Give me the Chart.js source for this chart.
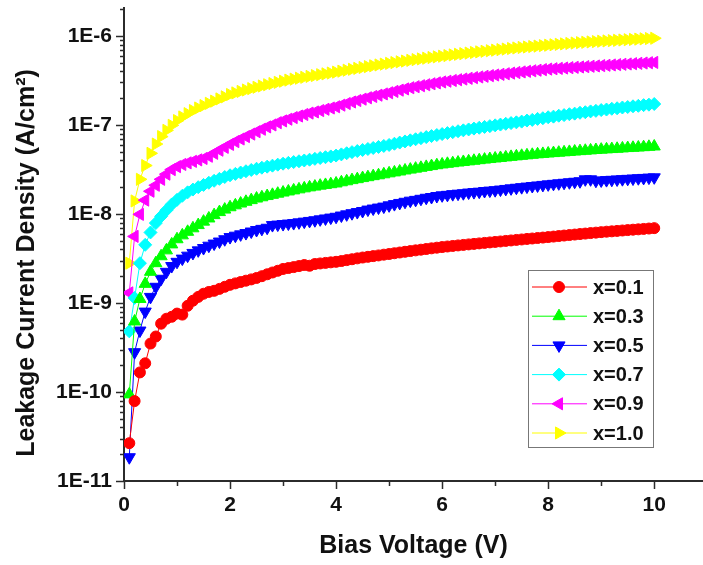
<!DOCTYPE html>
<html>
<head>
<meta charset="utf-8">
<script src="https://cdn.jsdelivr.net/npm/chart.js@4.4.1/dist/chart.umd.min.js"></script>
<style>
  html, body { margin: 0; padding: 0; background: #fff; }
  #leak { display: block; }
</style>
</head>
<body>
<canvas id="leak" width="703" height="565"></canvas>
<script>
// bias voltage (V)
const voltage = [
  0.1,0.2,0.3,0.4,0.5,0.6,0.7,0.8,0.9,1.0,
  1.1,1.2,1.3,1.4,1.5,1.6,1.7,1.8,1.9,2.0,
  2.1,2.2,2.3,2.4,2.5,2.6,2.7,2.8,2.9,3.0,
  3.1,3.2,3.3,3.4,3.5,3.6,3.7,3.8,3.9,4.0,
  4.1,4.2,4.3,4.4,4.5,4.6,4.7,4.8,4.9,5.0,
  5.1,5.2,5.3,5.4,5.5,5.6,5.7,5.8,5.9,6.0,
  6.1,6.2,6.3,6.4,6.5,6.6,6.7,6.8,6.9,7.0,
  7.1,7.2,7.3,7.4,7.5,7.6,7.7,7.8,7.9,8.0,
  8.1,8.2,8.3,8.4,8.5,8.6,8.7,8.8,8.9,9.0,
  9.1,9.2,9.3,9.4,9.5,9.6,9.7,9.8,9.9,10.0
];

// leakage current density (A/cm2)
const jX01 = [
  2.66e-11,7.9e-11,1.66e-10,2.1e-10,3.5e-10,4.2e-10,5.85e-10,6.65e-10,7.0e-10,7.6e-10,
  7.4e-10,9.3e-10,1.06e-9,1.17e-9,1.27e-9,1.33e-9,1.37e-9,1.44e-9,1.52e-9,1.6e-9,
  1.66e-9,1.72e-9,1.78e-9,1.84e-9,1.91e-9,2.0e-9,2.1e-9,2.2e-9,2.3e-9,2.41e-9,
  2.47e-9,2.53e-9,2.6e-9,2.67e-9,2.62e-9,2.74e-9,2.78e-9,2.82e-9,2.86e-9,2.9e-9,
  2.96e-9,3.03e-9,3.1e-9,3.17e-9,3.24e-9,3.3e-9,3.36e-9,3.42e-9,3.49e-9,3.55e-9,
  3.62e-9,3.69e-9,3.76e-9,3.83e-9,3.9e-9,3.97e-9,4.04e-9,4.11e-9,4.18e-9,4.25e-9,
  4.31e-9,4.37e-9,4.43e-9,4.49e-9,4.55e-9,4.61e-9,4.67e-9,4.73e-9,4.79e-9,4.85e-9,
  4.91e-9,4.98e-9,5.04e-9,5.11e-9,5.17e-9,5.24e-9,5.3e-9,5.37e-9,5.43e-9,5.5e-9,
  5.57e-9,5.65e-9,5.72e-9,5.8e-9,5.87e-9,5.95e-9,6.02e-9,6.1e-9,6.17e-9,6.25e-9,
  6.32e-9,6.38e-9,6.45e-9,6.52e-9,6.59e-9,6.66e-9,6.72e-9,6.79e-9,6.86e-9,6.93e-9
];
const jX03 = [
  9.4e-11,6.2e-10,1.11e-9,1.64e-9,2.24e-9,2.8e-9,3.35e-9,3.9e-9,4.55e-9,5.2e-9,
  5.75e-9,6.3e-9,6.9e-9,7.5e-9,8.2e-9,8.9e-9,9.7e-9,1.05e-8,1.12e-8,1.19e-8,
  1.25e-8,1.31e-8,1.37e-8,1.43e-8,1.49e-8,1.54e-8,1.59e-8,1.64e-8,1.69e-8,1.74e-8,
  1.79e-8,1.84e-8,1.89e-8,1.94e-8,1.99e-8,2.03e-8,2.08e-8,2.12e-8,2.16e-8,2.2e-8,
  2.27e-8,2.33e-8,2.4e-8,2.46e-8,2.53e-8,2.59e-8,2.66e-8,2.72e-8,2.79e-8,2.86e-8,
  2.93e-8,3.0e-8,3.08e-8,3.15e-8,3.23e-8,3.3e-8,3.38e-8,3.45e-8,3.53e-8,3.6e-8,
  3.66e-8,3.72e-8,3.78e-8,3.84e-8,3.9e-8,3.96e-8,4.02e-8,4.08e-8,4.14e-8,4.2e-8,
  4.26e-8,4.32e-8,4.38e-8,4.44e-8,4.5e-8,4.56e-8,4.62e-8,4.68e-8,4.73e-8,4.78e-8,
  4.83e-8,4.88e-8,4.93e-8,4.98e-8,5.03e-8,5.08e-8,5.13e-8,5.18e-8,5.23e-8,5.28e-8,
  5.32e-8,5.36e-8,5.4e-8,5.45e-8,5.5e-8,5.54e-8,5.58e-8,5.63e-8,5.68e-8,5.73e-8
];
const jX05 = [
  1.85e-11,2.8e-10,4.9e-10,8.0e-10,1.17e-9,1.52e-9,1.87e-9,2.24e-9,2.6e-9,2.9e-9,
  3.15e-9,3.4e-9,3.65e-9,3.9e-9,4.14e-9,4.4e-9,4.65e-9,4.9e-9,5.2e-9,5.5e-9,
  5.7e-9,5.9e-9,6.1e-9,6.35e-9,6.6e-9,6.8e-9,7.0e-9,7.5e-9,7.6e-9,7.7e-9,
  7.8e-9,7.9e-9,8.05e-9,8.2e-9,8.35e-9,8.5e-9,8.7e-9,8.9e-9,9.1e-9,9.3e-9,
  9.6e-9,9.9e-9,1.02e-8,1.05e-8,1.08e-8,1.12e-8,1.15e-8,1.18e-8,1.21e-8,1.25e-8,
  1.29e-8,1.33e-8,1.37e-8,1.41e-8,1.44e-8,1.48e-8,1.52e-8,1.55e-8,1.59e-8,1.62e-8,
  1.64e-8,1.67e-8,1.69e-8,1.71e-8,1.74e-8,1.76e-8,1.78e-8,1.81e-8,1.83e-8,1.85e-8,
  1.88e-8,1.91e-8,1.94e-8,1.97e-8,2.0e-8,2.03e-8,2.06e-8,2.09e-8,2.12e-8,2.15e-8,
  2.18e-8,2.21e-8,2.24e-8,2.27e-8,2.3e-8,2.33e-8,2.45e-8,2.45e-8,2.36e-8,2.38e-8,
  2.4e-8,2.42e-8,2.44e-8,2.46e-8,2.48e-8,2.5e-8,2.52e-8,2.54e-8,2.56e-8,2.58e-8
];
const jX07 = [
  4.8e-10,1.14e-9,2.8e-9,4.5e-9,6.2e-9,7.9e-9,9.4e-9,1.1e-8,1.28e-8,1.44e-8,
  1.6e-8,1.75e-8,1.88e-8,2.0e-8,2.12e-8,2.24e-8,2.36e-8,2.48e-8,2.6e-8,2.72e-8,
  2.82e-8,2.92e-8,3.02e-8,3.12e-8,3.22e-8,3.31e-8,3.4e-8,3.49e-8,3.58e-8,3.67e-8,
  3.75e-8,3.83e-8,3.91e-8,3.99e-8,4.07e-8,4.16e-8,4.25e-8,4.34e-8,4.43e-8,4.53e-8,
  4.67e-8,4.81e-8,4.95e-8,5.09e-8,5.23e-8,5.37e-8,5.51e-8,5.66e-8,5.81e-8,5.96e-8,
  6.15e-8,6.34e-8,6.53e-8,6.72e-8,6.91e-8,7.1e-8,7.3e-8,7.5e-8,7.7e-8,7.9e-8,
  8.1e-8,8.3e-8,8.5e-8,8.7e-8,8.9e-8,9.1e-8,9.3e-8,9.5e-8,9.7e-8,9.9e-8,
  1.01e-7,1.03e-7,1.05e-7,1.07e-7,1.09e-7,1.12e-7,1.14e-7,1.17e-7,1.19e-7,1.22e-7,
  1.24e-7,1.27e-7,1.29e-7,1.32e-7,1.34e-7,1.37e-7,1.39e-7,1.42e-7,1.44e-7,1.47e-7,
  1.49e-7,1.52e-7,1.54e-7,1.57e-7,1.59e-7,1.62e-7,1.64e-7,1.67e-7,1.69e-7,1.72e-7
];
const jX09 = [
  1.3e-9,5.6e-9,9.9e-9,1.43e-8,1.8e-8,2.1e-8,2.45e-8,2.8e-8,3.15e-8,3.4e-8,
  3.6e-8,3.75e-8,3.9e-8,4.05e-8,4.2e-8,4.45e-8,4.8e-8,5.2e-8,5.6e-8,6.05e-8,
  6.5e-8,6.95e-8,7.4e-8,7.9e-8,8.4e-8,8.95e-8,9.5e-8,1.0e-7,1.06e-7,1.11e-7,
  1.16e-7,1.21e-7,1.26e-7,1.31e-7,1.36e-7,1.4e-7,1.45e-7,1.5e-7,1.55e-7,1.6e-7,
  1.67e-7,1.74e-7,1.81e-7,1.88e-7,1.95e-7,2.02e-7,2.09e-7,2.16e-7,2.23e-7,2.3e-7,
  2.38e-7,2.46e-7,2.54e-7,2.62e-7,2.69e-7,2.76e-7,2.83e-7,2.9e-7,2.97e-7,3.04e-7,
  3.1e-7,3.16e-7,3.22e-7,3.28e-7,3.34e-7,3.4e-7,3.46e-7,3.52e-7,3.58e-7,3.64e-7,
  3.7e-7,3.76e-7,3.82e-7,3.88e-7,3.94e-7,4.0e-7,4.06e-7,4.12e-7,4.18e-7,4.24e-7,
  4.28e-7,4.32e-7,4.36e-7,4.4e-7,4.44e-7,4.48e-7,4.52e-7,4.56e-7,4.6e-7,4.64e-7,
  4.68e-7,4.72e-7,4.76e-7,4.8e-7,4.84e-7,4.88e-7,4.92e-7,4.96e-7,5.0e-7,5.04e-7
];
const jX10 = [
  2.8e-9,1.4e-8,2.45e-8,3.5e-8,4.8e-8,6.1e-8,7.4e-8,8.7e-8,9.9e-8,1.12e-7,
  1.23e-7,1.34e-7,1.45e-7,1.55e-7,1.65e-7,1.75e-7,1.85e-7,1.96e-7,2.07e-7,2.2e-7,
  2.29e-7,2.38e-7,2.47e-7,2.56e-7,2.65e-7,2.74e-7,2.83e-7,2.92e-7,3.01e-7,3.1e-7,
  3.19e-7,3.27e-7,3.35e-7,3.43e-7,3.51e-7,3.59e-7,3.67e-7,3.75e-7,3.83e-7,3.92e-7,
  4.02e-7,4.12e-7,4.22e-7,4.32e-7,4.42e-7,4.52e-7,4.62e-7,4.72e-7,4.82e-7,4.92e-7,
  5.02e-7,5.12e-7,5.22e-7,5.32e-7,5.42e-7,5.52e-7,5.62e-7,5.72e-7,5.82e-7,5.92e-7,
  6.02e-7,6.12e-7,6.22e-7,6.32e-7,6.42e-7,6.52e-7,6.62e-7,6.72e-7,6.82e-7,6.92e-7,
  7.02e-7,7.12e-7,7.22e-7,7.32e-7,7.42e-7,7.51e-7,7.6e-7,7.69e-7,7.78e-7,7.87e-7,
  7.96e-7,8.05e-7,8.14e-7,8.23e-7,8.32e-7,8.4e-7,8.48e-7,8.56e-7,8.64e-7,8.72e-7,
  8.79e-7,8.86e-7,8.93e-7,9.0e-7,9.07e-7,9.14e-7,9.21e-7,9.28e-7,9.35e-7,9.42e-7
];

const seriesLabels = ['x=0.1', 'x=0.3', 'x=0.5', 'x=0.7', 'x=0.9', 'x=1.0'];
const seriesData = [jX01, jX03, jX05, jX07, jX09, jX10];
const xTicks = [0, 2, 4, 6, 8, 10];

const colors = ['#ff0000', '#00ff00', '#0000ff', '#00ffff', '#ff00ff', '#ffff00'];
const markers = [
  { style: 'circle', rot: 0, r: 5.5 },
  { style: 'triangle', rot: 0, r: 7 },
  { style: 'triangle', rot: 180, r: 7 },
  { style: 'rectRot', rot: 0, r: 6.5 },
  { style: 'triangle', rot: 270, r: 7 },
  { style: 'triangle', rot: 90, r: 7 }
];

const FONT = 'Arial, "Liberation Sans", sans-serif';
const AXIS = '#2b2b2b';

const datasets = seriesData.map((vals, i) => ({
  label: seriesLabels[i],
  data: voltage.map((v, k) => ({ x: v, y: vals[k] })),
  borderColor: colors[i],
  backgroundColor: colors[i],
  borderWidth: 1,
  pointStyle: markers[i].style,
  pointRotation: markers[i].rot,
  pointRadius: markers[i].r,
  pointBorderWidth: 1,
  pointBorderColor: colors[i],
  pointBackgroundColor: colors[i],
  tension: 0
}));

function isDecade(v) {
  const e = Math.log10(v);
  return Math.abs(e - Math.round(e)) < 1e-6;
}

// the x axis runs to the right edge of the canvas, as in the original figure
const fullWidth = {
  id: 'fullWidth',
  afterLayout(chart) {
    const ca = chart.chartArea;
    const xs = chart.scales.x;
    if (ca.right < chart.width) {
      ca.right = chart.width;
      ca.width = ca.right - ca.left;
      xs.right = chart.width;
      xs.width = xs.right - xs.left;
      xs.configure();
    }
  }
};

// tick marks (major / minor), y title, legend box
const decorations = {
  id: 'decorations',
  afterDraw(chart) {
    const ctx = chart.ctx;
    const xs = chart.scales.x;
    const ys = chart.scales.y;
    const area = chart.chartArea;
    ctx.save();
    ctx.strokeStyle = AXIS;
    ctx.lineWidth = 1.5;
    // y ticks
    for (let e = -11; e <= -6; e++) {
      for (let s = 1; s <= 9; s++) {
        const v = s * Math.pow(10, e);
        if (v > ys.max * 1.0001) break;
        const py = Math.round(ys.getPixelForValue(v)) + 0.5;
        const len = s === 1 ? 8 : 4;
        ctx.beginPath();
        ctx.moveTo(area.left - len, py);
        ctx.lineTo(area.left, py);
        ctx.stroke();
      }
    }
    // x ticks
    for (let v = 0; v <= 10; v++) {
      const px = Math.round(xs.getPixelForValue(v)) + 0.5;
      const len = v % 2 === 0 ? 8 : 5;
      ctx.beginPath();
      ctx.moveTo(px, area.bottom);
      ctx.lineTo(px, area.bottom + len);
      ctx.stroke();
    }

    // y axis title
    ctx.fillStyle = '#111';
    ctx.font = 'bold 25px ' + FONT;
    ctx.textAlign = 'center';
    ctx.textBaseline = 'middle';
    ctx.translate(27, 263);
    ctx.rotate(-Math.PI / 2);
    ctx.fillText('Leakage Current Density (A/cm\u00b2)', 0, 0);
    ctx.restore();

    // legend
    ctx.save();
    const bx = 528, by = 270, bw = 125, bh = 177;
    ctx.fillStyle = '#fff';
    ctx.fillRect(bx, by, bw, bh);
    ctx.strokeStyle = '#777';
    ctx.lineWidth = 1;
    ctx.strokeRect(bx + 0.5, by + 0.5, bw, bh);
    ctx.font = 'bold 20px ' + FONT;
    ctx.textAlign = 'left';
    ctx.textBaseline = 'middle';
    chart.data.datasets.forEach((ds, i) => {
      const cy = 287 + i * 29.2;
      ctx.strokeStyle = ds.borderColor;
      ctx.lineWidth = 1;
      ctx.beginPath();
      ctx.moveTo(532, cy);
      ctx.lineTo(587, cy);
      ctx.stroke();
      ctx.fillStyle = ds.backgroundColor;
      Chart.helpers.drawPoint(ctx, {
        pointStyle: ds.pointStyle,
        rotation: ds.pointRotation,
        radius: ds.pointRadius,
        borderWidth: 1
      }, 559, cy);
      ctx.fillStyle = '#111';
      ctx.fillText(ds.label, 593, cy + 1);
    });
    ctx.restore();
  }
};

new Chart(document.getElementById('leak').getContext('2d'), {
  type: 'line',
  data: { datasets },
  options: {
    responsive: false,
    animation: false,
    devicePixelRatio: 1,
    layout: { padding: { top: 6, left: 0, right: 0, bottom: 0 } },
    plugins: {
      legend: { display: false },
      tooltip: { enabled: false }
    },
    scales: {
      x: {
        type: 'linear',
        min: 0,
        max: 10.92,
        grid: { display: true, drawOnChartArea: false, drawTicks: true, tickLength: 8, tickColor: 'rgba(0,0,0,0)' },
        border: { display: true, color: AXIS, width: 2 },
        ticks: {
          stepSize: 1,
          includeBounds: false,
          autoSkip: false,
          maxRotation: 0,
          padding: 4,
          color: '#111',
          font: { family: FONT, size: 21, weight: 'bold' },
          callback: (v) => (xTicks.includes(v) ? String(v) : '')
        },
        title: {
          display: true,
          text: 'Bias Voltage (V)',
          color: '#111',
          font: { family: FONT, size: 25, weight: 'bold' },
          padding: { top: 0, bottom: 4 }
        },
        afterFit(scale) {
          scale.height = 84;
          scale.paddingLeft = 0;
          scale.paddingRight = 0;
        }
      },
      y: {
        type: 'logarithmic',
        min: 1e-11,
        max: 2.06e-6,
        grid: { display: true, drawOnChartArea: false, drawTicks: true, tickLength: 8, tickColor: 'rgba(0,0,0,0)' },
        border: { display: true, color: AXIS, width: 2 },
        ticks: {
          autoSkip: false,
          padding: 4,
          color: '#111',
          font: { family: FONT, size: 21, weight: 'bold' },
          callback: (v) => (isDecade(v) ? '1E' + Math.round(Math.log10(v)) : '')
        },
        afterFit(scale) {
          scale.width = 124;
          scale.paddingTop = 0;
          scale.paddingBottom = 0;
        }
      }
    }
  },
  plugins: [fullWidth, decorations]
});
</script>
</body>
</html>
